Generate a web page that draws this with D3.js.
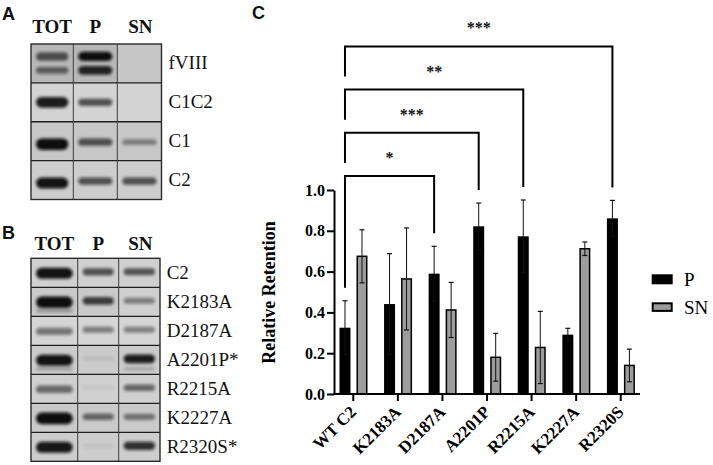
<!DOCTYPE html>
<html><head><meta charset="utf-8">
<script src="https://cdn.jsdelivr.net/npm/d3@7"></script>
<style>body{margin:0;background:#fff} svg{display:block}</style>
</head><body>
<svg id="fig" width="713" height="465"></svg>
<script>
// ---------------- DATA ----------------
// Panel C bar chart
const categories = ["WT C2","K2183A","D2187A","A2201P","R2215A","K2227A","R2320S"];
const series = ["P","SN"];
const pMeans  = [0.325, 0.441, 0.590, 0.822, 0.773, 0.291, 0.861];
const pErr    = [0.132, 0.247, 0.134, 0.114, 0.178, 0.031, 0.088];
const snMeans = [0.675, 0.564, 0.412, 0.180, 0.228, 0.712, 0.140];
const snErr   = [0.130, 0.250, 0.135, 0.117, 0.177, 0.033, 0.080];
const yTicks  = [0, 0.2, 0.4, 0.6, 0.8, 1.0];
const yTickLabels = ["0.0","0.2","0.4","0.6","0.8","1.0"];
const sigFrom   = ["WT C2","WT C2","WT C2","WT C2"];
const sigTo     = ["D2187A","A2201P","R2215A","R2320S"];
const sigLabels = ["*","***","**","***"];

// Blot panels (band intensities 0..1 per lane TOT, P, SN)
const lanes = ["TOT","P","SN"];
const blotARows  = ["fVIII","C1C2","C1","C2"];
const blotAMain  = [[0.60,0.97,0],[0.88,0.62,0],[0.97,0.62,0.38],[0.92,0.62,0.62]];
const blotALower = [[0.55,0.88,0],[0,0,0],[0,0,0],[0,0,0]];
const blotBRows  = ["C2","K2183A","D2187A","A2201P*","R2215A","K2227A","R2320S*"];
const blotBMain  = [[0.92,0.62,0.6],[0.97,0.72,0.4],[0.45,0.42,0.4],[0.92,0.08,0.88],[0.5,0.06,0.52],[1.0,0.52,0.45],[0.9,0.06,0.78]];
const blotBLower = [[0,0,0],[0.3,0,0],[0,0,0],[0.25,0,0.2],[0,0,0],[0,0,0],[0,0,0]];

// ---------------- DRAW ----------------
const svg = d3.select("#fig");
svg.append("rect").attr("width",713).attr("height",465).attr("fill","#fff");
const defs = svg.append("defs");
defs.append("filter").attr("id","blur").attr("x","-30%").attr("y","-150%").attr("width","160%").attr("height","400%")
  .append("feGaussianBlur").attr("stdDeviation",1.6);

const serif = "'Liberation Serif','Times New Roman',serif";
const sans = "'Liberation Sans',Arial,sans-serif";

// panel letters
[["A",2,19.5],["B",2,238.5],["C",252,18.5]].forEach(([t,x,yy])=>{
  svg.append("text").attr("x",x).attr("y",yy).text(t)
    .attr("font-family",sans).attr("font-weight","bold").attr("font-size",18).attr("fill","#111");
});

function drawBlot(opts){
  const g = svg.append("g");
  const rowScale = d3.scaleBand().domain(opts.rows).range([opts.top, opts.bottom]);
  const lx = opts.lanesX;
  const laneCenter = j => (lx[j]+lx[j+1])/2;
  // headers
  lanes.forEach((l,j)=>{
    g.append("text").attr("x",laneCenter(j)+(j===2?1:0)).attr("y",opts.headerY).text(l)
      .attr("text-anchor","middle").attr("font-family",serif).attr("font-weight","bold")
      .attr("font-size",19).attr("fill","#111");
  });
  opts.rows.forEach((r,i)=>{
    const y0 = rowScale(r), h = rowScale.bandwidth();
    const cy = y0 + h/2;
    lanes.forEach((l,j)=>{
      g.append("rect").attr("x",lx[j]).attr("y",y0).attr("width",lx[j+1]-lx[j]).attr("height",h)
        .attr("fill",opts.shade(i,j));
      const w = lx[j+1]-lx[j];
      const mi = opts.main[i][j], li = opts.lower[i][j];
      const dbl = opts.doublet && li > 0.3;
      const mainDy = dbl ? -7 : (opts.mainDy ? opts.mainDy(i,j) : 0);
      if (mi > 0.02) {
        const bh = 3.5 + 7.5*mi*(j===0?1.1:0.8);
        g.append("rect").attr("x",lx[j]+5).attr("y",cy+mainDy-bh/2).attr("width",w-10).attr("height",bh)
          .attr("rx",bh/2).attr("fill","#0c0c0c").attr("opacity",Math.min(1,mi*1.05)).attr("filter","url(#blur)");
      }
      if (li > 0.02) {
        const bh = dbl ? 3.5 + 6*li : 3.5;
        const dy = dbl ? 7 : 9;
        g.append("rect").attr("x",lx[j]+5).attr("y",cy+dy-bh/2).attr("width",w-10).attr("height",bh)
          .attr("rx",bh/2).attr("fill","#111").attr("opacity",li).attr("filter","url(#blur)");
      }
    });
    // row label
    g.append("text").attr("x",opts.labelX).attr("y",cy+5.8).text(r)
      .attr("font-family",serif).attr("font-size",19).attr("fill","#111");
    if (i>0) g.append("line").attr("x1",lx[0]).attr("x2",lx[3]).attr("y1",y0).attr("y2",y0)
      .attr("stroke","#1e1e1e").attr("stroke-width",1.3);
  });
  [1,2].forEach(j=>{
    g.append("line").attr("x1",lx[j]).attr("x2",lx[j]).attr("y1",opts.top).attr("y2",opts.bottom)
      .attr("stroke","#3a3a3a").attr("stroke-width",1);
  });
  g.append("rect").attr("x",lx[0]).attr("y",opts.top).attr("width",lx[3]-lx[0]).attr("height",opts.bottom-opts.top)
    .attr("fill","none").attr("stroke","#2a2a2a").attr("stroke-width",1.4);
}

const shadeARows = [196,211,199,205];
drawBlot({
  rows: blotARows, main: blotAMain, lower: blotALower, doublet: true,
  lanesX: [31, 73.3, 117.3, 161.5], top: 44, bottom: 199.5, headerY: 33.3, labelX: 168.5,
  shade: (i,j)=>{ let v = shadeARows[i]; if (i===0 && j<2) v -= 12; if (i===0 && j===2) v += 2; return d3.rgb(v,v,v); },
  mainDy: (i,j)=> (i>=2 && j===0) ? 3 : (i>=2 ? 1 : 0)
});
const shadeBRows = [208,202,213,203,208,202,205];
drawBlot({
  rows: blotBRows, main: blotBMain, lower: blotBLower, doublet: false,
  lanesX: [31, 77.7, 118.7, 160], top: 258.3, bottom: 461.3, headerY: 249.5, labelX: 166.7,
  shade: (i,j)=>{ let v = shadeBRows[i]; if (i===1 && j===2) v += 6; return d3.rgb(v,v,v); },
  mainDy: (i,j)=> (j===0 ? 0.5 : -1)
});

// ---------------- Panel C ----------------
const x0 = d3.scaleBand().domain(categories).range([331, 643]);
const x1 = d3.scaleBand().domain(series).range([-13.8, 14.2]).paddingInner(0.353);
const y = d3.scaleLinear().domain([0,1]).range([394,190]);
const ctr = c => x0(c) + x0.bandwidth()/2;
const gC = svg.append("g");

const barData = [];
categories.forEach((c,i)=>{
  barData.push({c, s:"P", m:pMeans[i], e:pErr[i]});
  barData.push({c, s:"SN", m:snMeans[i], e:snErr[i]});
});

gC.selectAll("rect.bar").data(barData).join("rect").attr("class","bar")
  .attr("x", d => ctr(d.c) + x1(d.s) + (d.s==="SN"?0.75:0))
  .attr("width", d => x1.bandwidth() - (d.s==="SN"?1.5:0))
  .attr("y", d => y(d.m))
  .attr("height", d => y(0) - y(d.m))
  .attr("fill", d => d.s==="P" ? "#000" : "#9c9c9c")
  .attr("stroke", d => d.s==="P" ? "none" : "#000")
  .attr("stroke-width", 1.5);

// error bars
const eb = gC.selectAll("g.eb").data(barData).join("g").attr("class","eb")
  .attr("transform", d => `translate(${ctr(d.c) + x1(d.s) + x1.bandwidth()/2},0)`);
eb.append("line").attr("y1", d=>y(d.m+d.e)).attr("y2", d=>y(d.m-d.e)).attr("stroke","#111").attr("stroke-width",1);
eb.append("line").attr("x1",-2.5).attr("x2",2.5).attr("y1", d=>y(d.m+d.e)).attr("y2", d=>y(d.m+d.e)).attr("stroke","#111").attr("stroke-width",1.2);
eb.append("line").attr("x1",-2.5).attr("x2",2.5).attr("y1", d=>y(d.m-d.e)).attr("y2", d=>y(d.m-d.e)).attr("stroke","#111").attr("stroke-width",1.2);

// y axis
const yAxis = d3.axisLeft(y).tickValues(yTicks).tickFormat((d,i)=>yTickLabels[i]).tickSize(7).tickSizeOuter(0).tickPadding(2);
const gy = gC.append("g").attr("transform","translate(334,0)").call(yAxis);
gy.select(".domain").attr("stroke","#000").attr("stroke-width",2);
gy.selectAll(".tick line").attr("stroke","#000").attr("stroke-width",2);
gy.selectAll(".tick text").attr("font-family",serif).attr("font-weight","bold").attr("font-size",16).attr("fill","#000");

// x axis
const xAxis = d3.axisBottom(x0).tickSize(7).tickSizeOuter(0);
const gx = gC.append("g").attr("transform","translate(0,394)").call(xAxis);
gx.select(".domain").remove();
gx.append("line").attr("x1",333).attr("x2",640).attr("stroke","#000").attr("stroke-width",2);
gx.selectAll(".tick line").attr("stroke","#000").attr("stroke-width",2);
gx.selectAll(".tick text").attr("y",null).attr("dy",null)
  .attr("transform","translate(4,19) rotate(-45)").attr("text-anchor","end")
  .attr("font-family",serif).attr("font-weight","bold").attr("font-size",17).attr("fill","#000");

// y label
gC.append("text").attr("transform","translate(275,292.5) rotate(-90)").attr("text-anchor","middle")
  .text("Relative Retention").attr("font-family",serif).attr("font-weight","bold").attr("font-size",18).attr("fill","#000");

// significance brackets
const pX = c => ctr(c) + x1("P") + x1.bandwidth()/2;
const errTopP = c => { const i = categories.indexOf(c); return y(pMeans[i]+pErr[i]); };
let prevLevel = null;
sigFrom.forEach((f,i)=>{
  const t = sigTo[i];
  const hy = y(1) - 14 - i*43.2;
  const lb = i===0 ? errTopP(f) - 13 : prevLevel - 13;
  const rb = errTopP(t) - 13;
  gC.append("path").attr("d",`M${pX(f)},${lb}V${hy}H${pX(t)}V${rb}`)
    .attr("fill","none").attr("stroke","#000").attr("stroke-width",2);
  gC.append("text").attr("x",(pX(f)+pX(t))/2).attr("y",hy-13).attr("text-anchor","middle")
    .text(sigLabels[i]).attr("font-family",serif).attr("font-weight","bold").attr("font-size",16).attr("fill","#111");
  prevLevel = hy;
});

// legend
const lg = gC.append("g");
lg.append("rect").attr("x",651.7).attr("y",274.3).attr("width",21).attr("height",10).attr("fill","#000");
lg.append("rect").attr("x",652.7).attr("y",303.3).attr("width",19).attr("height",7.6).attr("fill","#9c9c9c").attr("stroke","#000").attr("stroke-width",2);
lg.append("text").attr("x",684).attr("y",285.8).text(series[0]).attr("font-family",serif).attr("font-size",19).attr("fill","#000");
lg.append("text").attr("x",684).attr("y",313.6).text(series[1]).attr("font-family",serif).attr("font-size",19).attr("fill","#000");
</script>
</body></html>
